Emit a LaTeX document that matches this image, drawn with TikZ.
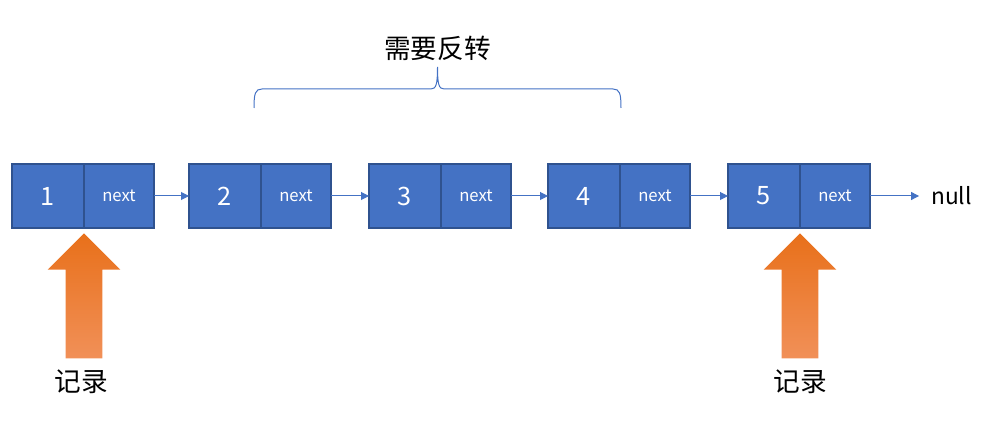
\documentclass[tikz,border=0pt]{standalone}
\usepackage{fontspec}
\setmainfont{Noto Sans CJK SC}
\usetikzlibrary{positioning,arrows.meta,shapes.arrows,calc}
\definecolor{boxblue}{HTML}{4472C4}
\definecolor{boxedge}{HTML}{2F528F}
\definecolor{recdark}{HTML}{E8701A}
\definecolor{reclight}{HTML}{F19058}
\begin{document}
\begin{tikzpicture}[main/.style = {draw=boxedge, line width=1.5pt, fill=boxblue, text=white, minimum height=48pt, outer sep=0pt, inner sep=0pt},
        val/.style = {main, minimum width=54pt, font=\fontsize{19}{19}\selectfont},
        ptr/.style = {main, minimum width=52.5pt, font=\fontsize{12.5}{12.5}\selectfont},
        link/.style = {draw=boxblue, line width=0.75pt, -{Triangle[length=6pt, width=6pt]}},
        rec/.style = {shape=single arrow, rotate=90, draw=none, inner xsep=0pt, inner ysep=13.5pt, single arrow head extend=13.5pt, single arrow tip angle=90, minimum height=93.75pt, top color=recdark, bottom color=reclight},
        word/.style = {font=\fontsize{20}{20}\selectfont}]
        \useasboundingbox (0,0) rectangle (736.5pt,-320.25pt);
        \node[val, anchor=west] (1) at (9pt,-147pt) {1};
        \node[ptr] (n1) [right=0pt of 1] {next};
        \node[val] (2) [right=26.25pt of n1] {2};
        \node[ptr] (n2) [right=0pt of 2] {next};
        \node[val] (3) [right=28.5pt of n2] {3};
        \node[ptr] (n3) [right=0pt of 3] {next};
        \node[val] (4) [right=27.75pt of n3] {4};
        \node[ptr] (n4) [right=0pt of 4] {next};
        \node[val] (5) [right=28.5pt of n4] {5};
        \node[ptr] (n5) [right=0pt of 5] {next};
        \node[font=\fontsize{17}{17}\selectfont] (null) [right=42.5pt of n5] {null};
        \draw[link] (n1) -- (2);
        \draw[link] (n2) -- (3);
        \draw[link] (n3) -- (4);
        \draw[link] (n4) -- (5);
        \draw[link, shorten >=5.7pt] (n5) -- (null);
        % brace over 2..4
        \coordinate (bl) at ([xshift=-5.25pt, yshift=42pt]2.north east);
        \coordinate (br) at ([xshift=0.75pt, yshift=42pt]n4.north west);
        \coordinate (bm) at ($($(bl)!0.5!(br)$)+(0,30.75pt)$);
        \draw[boxblue, line width=0.75pt] (bl) .. controls ([yshift=11pt]bl) and ([xshift=1pt, yshift=14.25pt]bl) .. ([xshift=6pt, yshift=14.25pt]bl)
            -- ([xshift=-5pt, yshift=-16.5pt]bm) .. controls ([xshift=-1pt, yshift=-16.5pt]bm) and ([yshift=-13pt]bm) .. (bm)
            .. controls ([yshift=-13pt]bm) and ([xshift=1pt, yshift=-16.5pt]bm) .. ([xshift=5pt, yshift=-16.5pt]bm)
            -- ([xshift=-6pt, yshift=14.25pt]br) .. controls ([xshift=-1pt, yshift=14.25pt]br) and ([yshift=11pt]br) .. (br);
        \node[word] (rev) [above=1pt of bm] {需要反转};
        % record pointers
        \node[rec, anchor=tip] (r1) at ([yshift=-3.75pt]1.south east) {};
        \node[rec, anchor=tip] (r5) at ([yshift=-3.75pt]5.south east) {};
        \node[word] (w1) at ([xshift=-2pt, yshift=-17pt]r1.tail) {记录};
        \node[word] (w5) at ([yshift=-17pt]r5.tail) {记录};
      \end{tikzpicture}
\end{document}
